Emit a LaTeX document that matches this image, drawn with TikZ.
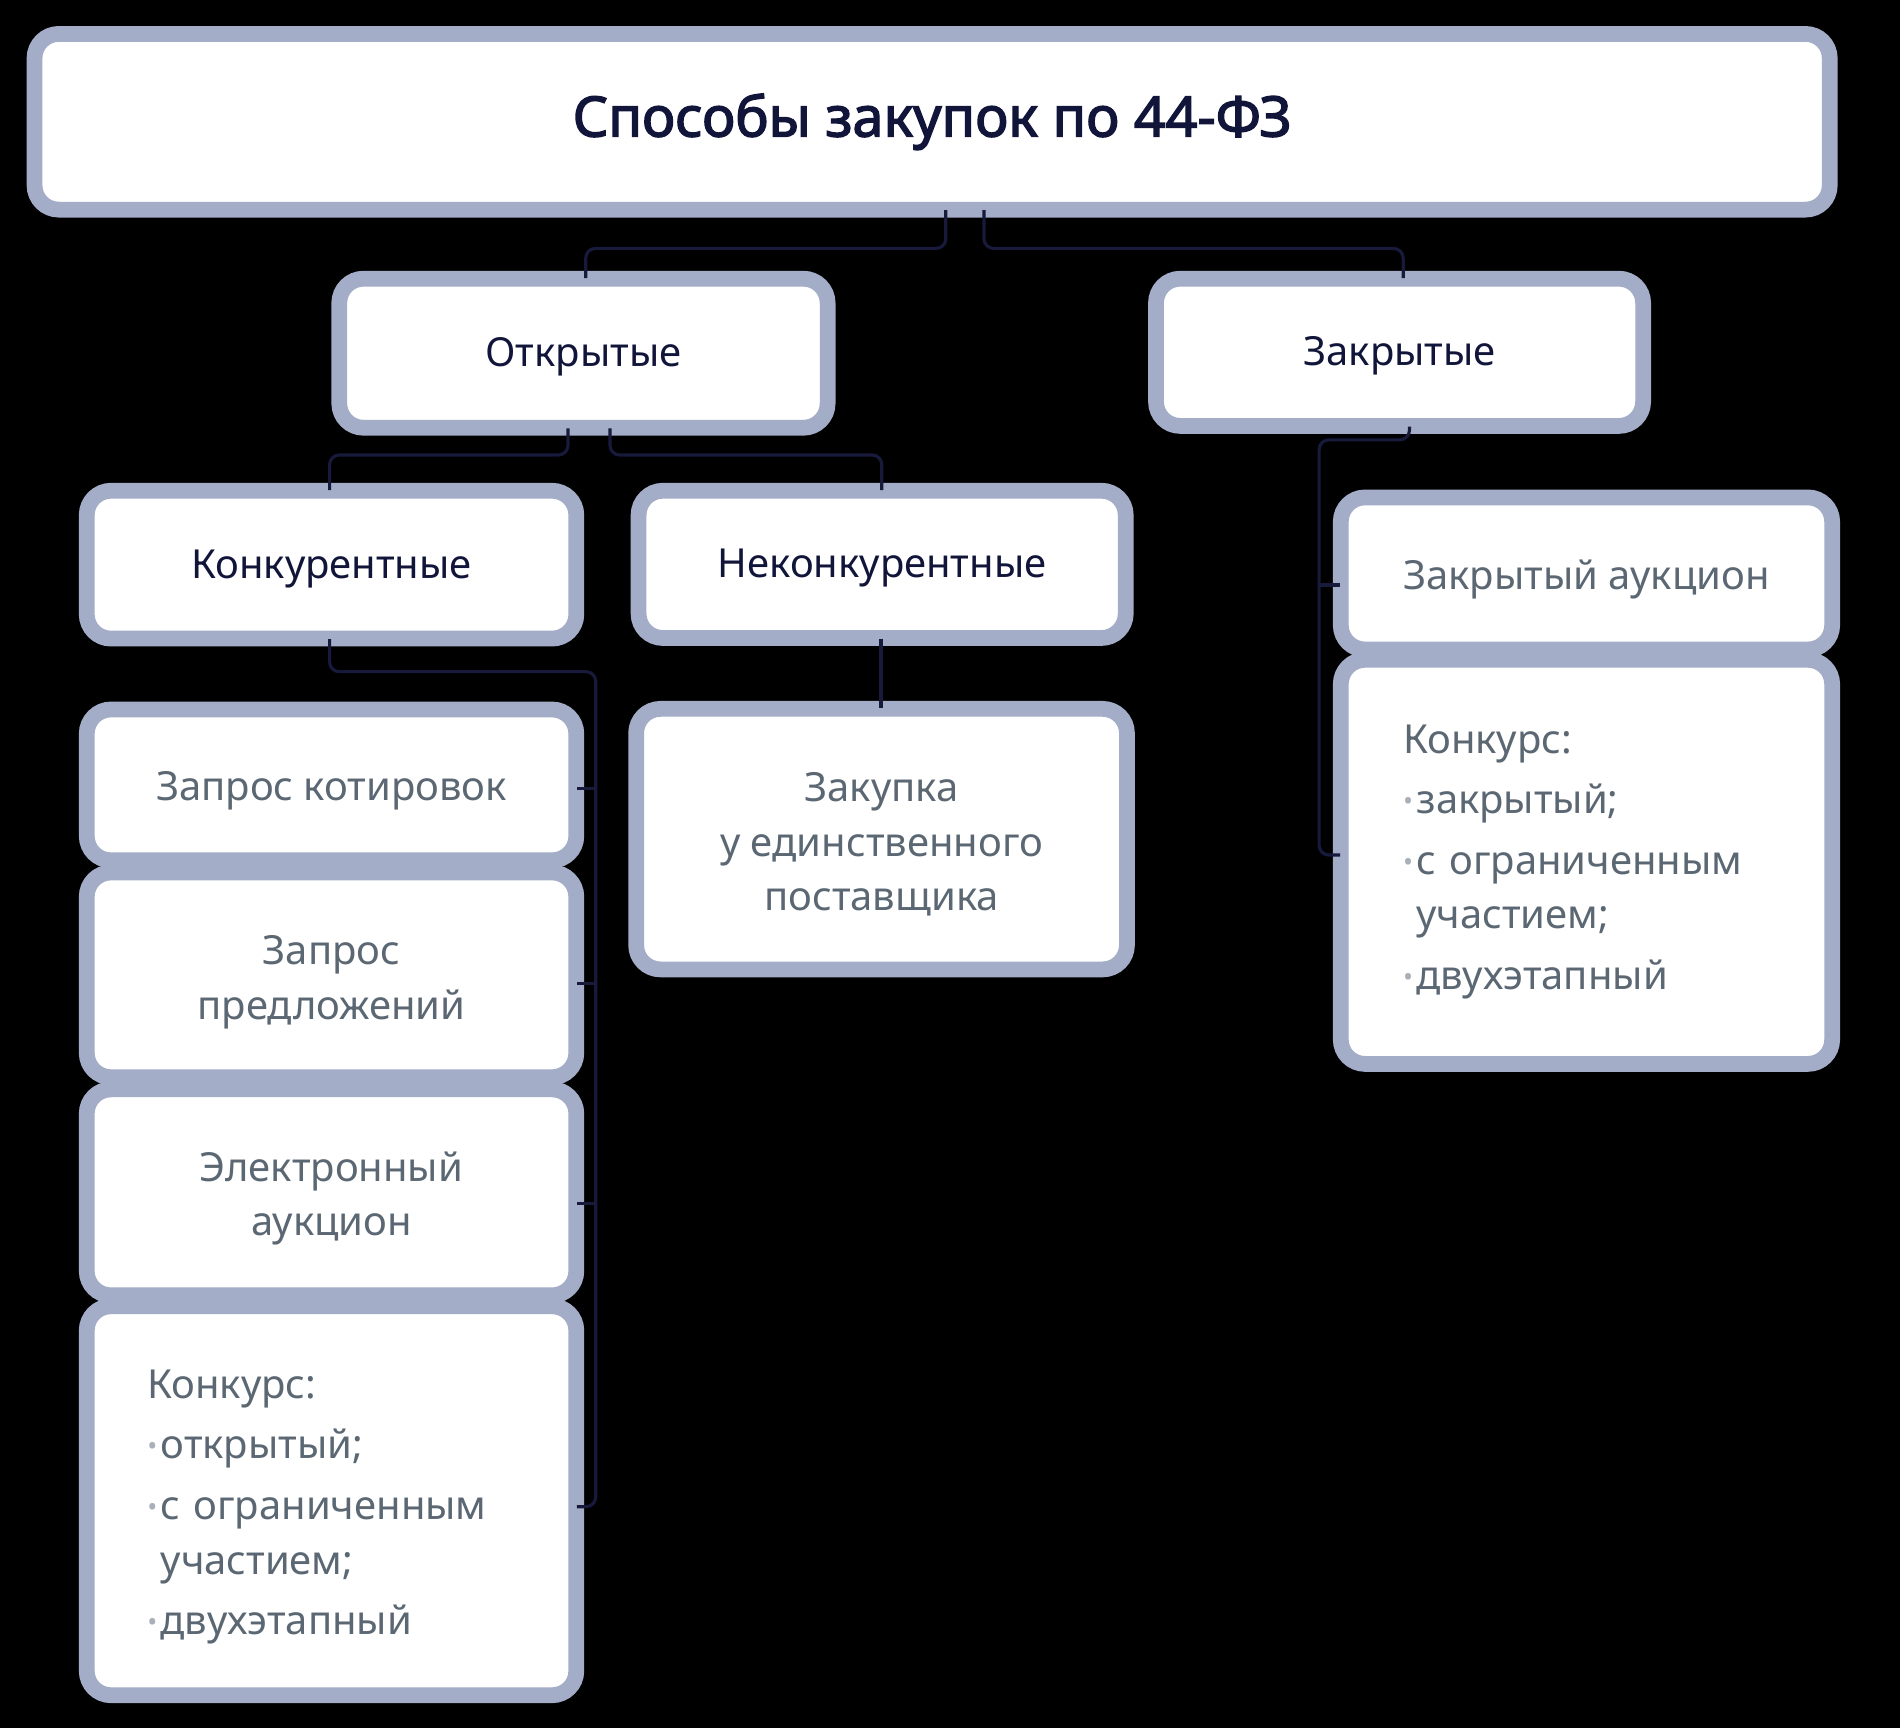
\documentclass[tikz,border=0pt]{standalone}
\usepackage{fontspec}
\setmainfont{Noto Sans}[AutoFakeBold=2.5]
\definecolor{framec}{HTML}{A4ADC8}
\definecolor{connc}{HTML}{171A3A}
\definecolor{titlec}{HTML}{12153A}
\definecolor{leafc}{HTML}{5B6873}
\definecolor{bulc}{HTML}{A9B0B8}
\newcommand\mybul{\makebox[11pt][l]{\raisebox{2.5pt}{\textcolor{bulc}{\fontsize{22}{22}\selectfont •}}}}
\tikzset{
  box/.style={draw=framec, line width=13pt, fill=white, rounded corners=20pt, inner sep=0pt, align=center},
  lower/.style={execute at begin node={\rule{0pt}{#1}}},
  headtxt/.style={text=titlec, font=\fontsize{33}{45}\selectfont, lower=30pt},
  leaftxt/.style={text=leafc, font=\fontsize{33}{45}\selectfont, lower=34pt},
  multitxt/.style={text=leafc, font=\fontsize{33}{45}\selectfont, align=center, inner sep=0pt},
  conn/.style={draw=connc, line width=2.6pt, rounded corners=8pt},
}
\begin{document}
\begin{tikzpicture}[x=1pt,y=-1pt]
\fill[black] (0,0) rectangle (1568,1426);
\useasboundingbox (0,0) rectangle (1568,1426);

% top
\node[box, minimum width=1481.5pt, minimum height=145pt, text=titlec, font=\bfseries\fontsize{46}{50}\selectfont] (top) at (769.25,100.5) {Способы закупок по 44-ФЗ};

% level 1
\node[box, headtxt, minimum width=403pt, minimum height=123pt] (otk) at (481.5,291.5) {Открытые};
\node[box, headtxt, minimum width=402pt, minimum height=121.5pt] (zakr) at (1155,290.75) {Закрытые};

% level 2
\node[box, headtxt, minimum width=404pt, minimum height=122pt] (konk) at (273.6,466) {Конкурентные};
\node[box, headtxt, minimum width=402pt, minimum height=121.5pt] (nekonk) at (728,465.75) {Неконкурентные};

% left column leaves
\node[box, leaftxt, minimum width=404pt, minimum height=124.5pt] (zk) at (273.6,647.75) {Запрос котировок};
\node[box, minimum width=404pt, minimum height=169pt] (zp) at (273.6,804.5) {};
\node[multitxt] (zp-t) at ([yshift=-6pt]zp.center) {Запрос\\предложений};
\node[box, minimum width=404pt, minimum height=170pt] (ea) at (273.6,984) {};
\node[multitxt] (ea-t) at ([yshift=-5pt]ea.center) {Электронный\\аукцион};
\node[box, leaftxt, minimum width=404pt, minimum height=321pt, text width=304pt, align=left] (konkl) at (273.6,1238.5)
  {Конкурс:\\[5pt]\mybul открытый;\\[5pt]\mybul с ограниченным\\\hspace*{11pt}участием;\\[5pt]\mybul двухэтапный};

% middle leaf
\node[box, minimum width=405pt, minimum height=215pt] (zakup) at (727.5,692.5) {};
\node[multitxt] (zakup-t) at ([yshift=-4.5pt]zakup.center) {Закупка\\у единственного\\поставщика};

% right column leaves
\node[box, leaftxt, minimum width=405.5pt, minimum height=125.5pt] (za) at (1309.25,473.25) {Закрытый аукцион};
\node[box, minimum width=405.5pt, minimum height=333.5pt] (konkr) at (1309.25,711.25) {};
\node[multitxt, text width=302.5pt, align=left] (konkr-t) at (konkr.center)
  {Конкурс:\\[5pt]\mybul закрытый;\\[5pt]\mybul с ограниченным\\\hspace*{11pt}участием;\\[5pt]\mybul двухэтапный};

% connectors
\draw[conn] ([xshift=11.25pt,yshift=6pt]top.south) -- (780.5,205) -- (483.4,205) -- ([xshift=1.9pt,yshift=-6pt]otk.north);
\draw[conn] ([xshift=42.75pt,yshift=6pt]top.south) -- (812,205) -- (1158,205) -- ([xshift=3pt,yshift=-6pt]zakr.north);
\draw[conn] ([xshift=-12.8pt,yshift=6pt]otk.south) -- (468.7,375.5) -- (272,375.5) -- ([xshift=-1.6pt,yshift=-6pt]konk.north);
\draw[conn] ([xshift=21.9pt,yshift=6pt]otk.south) -- (503.4,375.5) -- (727.7,375.5) -- ([xshift=-0.3pt,yshift=-6pt]nekonk.north);
\draw[conn] ([xshift=-1pt,yshift=6pt]nekonk.south) -- ([xshift=-0.5pt,yshift=-6pt]zakup.north);

\coordinate (lb1) at (491.6,650.5);
\coordinate (lb2) at (491.6,811.5);
\coordinate (lb3) at (491.6,993);
\draw[conn] ([xshift=-1.6pt,yshift=6pt]konk.south) -- (272,554.3) -- (491.6,554.3) -- (491.6,1243.4) -- ([xshift=-6pt,yshift=-4.9pt]konkl.east);
\draw[conn] (lb1) -- ([xshift=-6pt,yshift=-2.75pt]zk.east);
\draw[conn] (lb2) -- ([xshift=-6pt,yshift=-7pt]zp.east);
\draw[conn] (lb3) -- ([xshift=-6pt,yshift=-9pt]ea.east);

\coordinate (rb1) at (1088.6,482.8);
\draw[conn] ([xshift=8.2pt,yshift=6pt]zakr.south) -- (1163.2,363) -- (1088.6,363) -- (1088.6,705.6) -- ([xshift=6pt,yshift=5.65pt]konkr.west);
\draw[conn] (rb1) -- ([xshift=6pt,yshift=-9.55pt]za.west);
\end{tikzpicture}
\end{document}
